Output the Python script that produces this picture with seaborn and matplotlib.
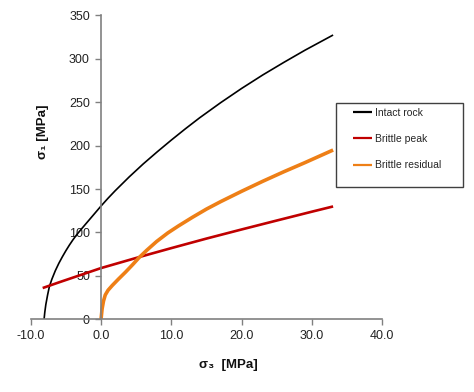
import matplotlib
matplotlib.use("Agg")
import matplotlib.pyplot as plt
from matplotlib.patches import Rectangle
from matplotlib.ticker import FormatStrFormatter
import seaborn as sns
import pandas as pd

# ---- data ----
intact_s3 = [-8.1, -8.0, -7.85, -7.6, -7.35, -7.0, -6.5, -6.0, -5.5, -5.0, -4.5, -4.0, -3.5,
             -3.0, -2.0, -1.0, 0.0, 1.0, 2.0, 3.0, 4.0, 6.0, 8.0, 10.0, 12.0, 14.0,
             17.0, 20.0, 23.0, 26.0, 29.0, 33.0]
intact_s1 = [0, 8, 17, 28, 37.6, 46, 56, 64.5, 72, 79, 85.5, 91.5, 97,
             102, 111.5, 121, 130.5, 139.5, 148, 156, 164, 179, 193, 206.5, 219.5, 232,
             249.5, 266, 281.5, 296, 310, 327.5]

peak_s3 = [-8.3, -6.0, -4.0, -2.0, 0.0, 3.0, 6.0, 10.0, 15.0, 20.0, 25.0, 30.0, 33.0]
peak_s1 = [36, 42.5, 48, 53.5, 59, 66, 73, 82, 93, 103.5, 113.8, 124, 130]

resid_s3 = [0.0, 0.15, 0.35, 0.6, 1.0, 1.6, 2.5, 3.5, 4.5, 5.4, 6.5, 7.9, 9.5, 11.0,
            13.0, 15.0, 17.0, 20.0, 23.0, 26.0, 29.0, 33.0]
resid_s1 = [0, 12, 21, 28, 33.5, 39, 46.5, 54.5, 63, 71, 79.5, 89.6, 99.5, 107.5,
            117.5, 127, 135.5, 147.5, 159, 170, 180.5, 195]

series_names = ["Intact rock", "Brittle peak", "Brittle residual"]
x_ticks = [-10, 0, 10, 20, 30, 40]
y_ticks = [0, 50, 100, 150, 200, 250, 300, 350]

sns.set_theme(style="white")
plt.rcParams["font.family"] = ["Liberation Sans", "DejaVu Sans"]

fig = plt.figure(figsize=(4.74, 3.92), dpi=100)
ax = fig.add_axes([0.0648, 0.1855, 0.7418, 0.775])

styles = [("#000000", 1.2), ("#C00000", 1.9), ("#EE7F16", 2.6)]
datasets = [(intact_s3, intact_s1), (peak_s3, peak_s1), (resid_s3, resid_s1)]
for name, (xs, ys), (col, lw) in zip(series_names, datasets, styles):
    df = pd.DataFrame({"s3": xs, "s1": ys})
    sns.lineplot(data=df, x="s3", y="s1", ax=ax, color=col, linewidth=lw,
                 estimator=None, sort=False, label=name)
for ln in ax.get_lines():
    ln.set_solid_joinstyle("round")
    ln.set_solid_capstyle("butt")

ax.set_xlim(-10, 40)
ax.set_ylim(0, 350)
ax.set_xticks(x_ticks)
ax.set_yticks(y_ticks)
ax.xaxis.set_major_formatter(FormatStrFormatter("%.1f"))
ax.set_xlabel("")
ax.set_ylabel("")

for s in ["top", "right"]:
    ax.spines[s].set_visible(False)
ax.spines["left"].set_position(("data", 0))
ax.spines["bottom"].set_position(("data", 0))
for s in ["left", "bottom"]:
    ax.spines[s].set_color("#808080")
    ax.spines[s].set_linewidth(1.2)

ax.tick_params(axis="both", which="major", direction="out", length=4, width=1,
               color="#808080", labelsize=9, labelcolor="#222222")
ax.tick_params(axis="y", pad=4)
ax.tick_params(axis="x", pad=4)
ax.yaxis.set_ticks_position("left")
ax.xaxis.set_ticks_position("bottom")
ax.grid(False)

fig.text(43 / 474, 1 - 132 / 392, "σ₁ [MPa]", rotation=90, ha="center", va="center",
         fontsize=9.5, fontweight="bold", color="#111111")
fig.text(228 / 474, 1 - 365 / 392, "σ₃  [MPa]", ha="center", va="center",
         fontsize=9.5, fontweight="bold", color="#111111")

# legend
leg = ax.legend(loc="upper left", bbox_to_anchor=(353 / 474, 1 - 108 / 392),
                bbox_transform=fig.transFigure, frameon=False, fontsize=7.5,
                handlelength=1.8, handletextpad=0.3, labelspacing=1.55,
                borderpad=0, borderaxespad=0)
for line in leg.get_lines():
    line.set_linewidth(1.6)
fig.patches.append(Rectangle((336 / 474, 1 - 187.3 / 392), (463 - 336) / 474,
                             (187.3 - 102.7) / 392, transform=fig.transFigure,
                             fill=False, edgecolor="#404040", linewidth=1.0,
                             figure=fig))

fig.savefig("out.png", dpi=100)
